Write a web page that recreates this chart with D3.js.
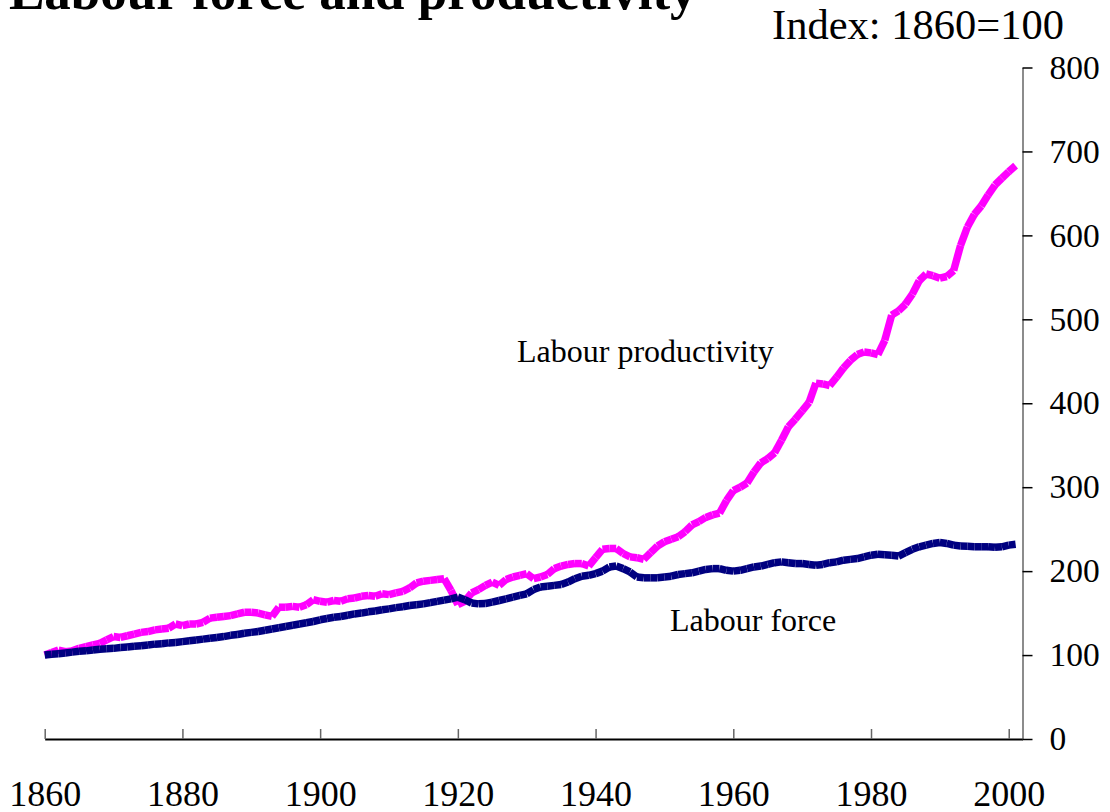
<!DOCTYPE html>
<meta charset="utf-8">
<style>
body { margin: 0; background: #fff; }
text { font-family: "Liberation Serif", "Times New Roman", serif; fill: #000; }
.title { font-weight: bold; font-size: 53px; }
.unit { font-size: 42.5px; }
.lbl { font-size: 32px; }
.axis text { font-family: "Liberation Serif", serif; }
.xaxis text { font-size: 36px; }
.yaxis text { font-size: 33.5px; }
</style>
<svg width="1110" height="812"></svg>
<script src="https://d3js.org/d3.v7.min.js"></script>
<script>
// years 1860..2001
var years = d3.range(1860, 2002);

// Labour force, index 1860=100
var labourForce = [
  100, 101, 101.5, 102.5, 103.5, 104.5, 105, 106, 107, 107.5,
  108, 109, 109.5, 110.5, 111, 112, 113, 113.5, 114.5, 115,
  116, 117, 118, 119, 120, 121, 122, 123.5, 124.5, 126,
  127, 128, 129.5, 131, 132.5, 134, 135.5, 137, 138.5, 140,
  142, 143.5, 145, 146, 147.5, 149, 150, 151.5, 152.5, 154,
  155, 156.5, 157.5, 159, 160, 161, 162.5, 164, 165.5, 167,
  169, 166, 162, 161, 161.5, 163, 165, 167, 169, 171,
  173, 178, 181, 182, 183, 184, 187, 191, 194, 195,
  197, 200, 205, 206, 203, 199, 193, 192, 192, 192,
  193, 194, 196, 197, 198, 200, 202, 203, 203, 201,
  200, 201, 203, 205, 206, 208, 210, 211, 210, 209,
  209, 208, 207, 208, 210, 211, 213, 214, 215, 217,
  219, 220, 219.5, 219, 218, 222, 226, 229, 231, 233,
  234, 233, 231, 230, 229.5, 229, 229, 229, 228.5, 229,
  231, 232
];

// Labour productivity, index 1860=100
var productivity = [
  100, 103, 106, 104, 105, 108, 110, 112, 114, 118,
  122, 121, 123, 125, 127, 128, 130, 131, 132, 137,
  135, 137, 137, 139, 144, 145, 146, 147, 149, 151,
  151, 150, 148, 146, 157, 157, 158, 157, 160, 166,
  164, 163, 165, 164, 167, 168, 170, 171, 170, 173,
  172, 174, 176, 180, 186, 188, 189, 190, 191, 177,
  160, 164, 174, 178, 183, 187, 183, 190, 193, 195,
  197, 191, 193, 196, 203, 206, 208, 209, 209, 206,
  216, 226, 227, 227, 221, 217, 216, 214, 222, 230,
  235, 238, 241, 247, 255, 259, 264, 267, 269, 284,
  296, 300, 305, 318, 329, 334, 341, 356, 372, 381,
  391, 401, 424, 423, 421, 431, 442, 451, 458, 461,
  460, 458, 475, 505, 510, 518, 530, 546, 554, 552,
  549, 551, 558, 588, 610, 625, 635, 648, 660, 668,
  676, 683
];

var xTicks = [1860, 1880, 1900, 1920, 1940, 1960, 1980, 2000];
var yTicks = [0, 100, 200, 300, 400, 500, 600, 700, 800];

var svg = d3.select("svg");

var x = d3.scaleLinear().domain([1860, 2002]).range([44.7, 1022.5]);
var y = d3.scaleLinear().domain([0, 800]).range([739, 67.5]);

// title, cut off at top like the source
svg.append("text").attr("class", "title")
    .attr("x", 9).attr("y", 9)
    .text("Labour force and productivity");

svg.append("text").attr("class", "unit")
    .attr("x", 1064).attr("y", 39)
    .attr("text-anchor", "end")
    .text("Index: 1860=100");

// x axis, ticks pointing up
var gx = svg.append("g").attr("class", "axis xaxis")
    .attr("transform", "translate(0," + y(0) + ")")
    .call(d3.axisBottom(x).tickValues(xTicks).tickFormat(d3.format("d"))
      .tickSize(-10).tickSizeOuter(0));
gx.attr("font-size", null);
gx.select(".domain").attr("stroke", "#000").attr("stroke-width", 2);
gx.selectAll(".tick line").attr("stroke", "#666").attr("stroke-width", 1.5);
gx.selectAll(".tick text").attr("y", 67).attr("dy", null).attr("fill", "#000");

// right value axis
var gy = svg.append("g").attr("class", "axis yaxis")
    .attr("transform", "translate(" + x.range()[1] + ",0)")
    .call(d3.axisRight(y).tickValues(yTicks).tickSize(10).tickSizeOuter(0).tickPadding(17));
gy.attr("font-size", null);
gy.select(".domain").attr("stroke", "#666").attr("stroke-width", 1.5);
gy.selectAll(".tick line").attr("stroke", "#000").attr("stroke-width", 1.5);
gy.selectAll(".tick text").attr("fill", "#000");

// each yearly step drawn as its own thick butt-capped segment
function drawSeries(values, color) {
  var pts = years.map(function(d, i) { return [x(d), y(values[i])]; });
  svg.append("g")
    .selectAll("line")
    .data(d3.pairs(pts))
    .enter().append("line")
      .attr("x1", function(d) { return d[0][0]; })
      .attr("y1", function(d) { return d[0][1]; })
      .attr("x2", function(d) { return d[1][0]; })
      .attr("y2", function(d) { return d[1][1]; })
      .attr("stroke", color)
      .attr("stroke-width", 7.5)
      .attr("stroke-linecap", "butt");
}

drawSeries(productivity, "#ff00ff");
drawSeries(labourForce, "#000080");

svg.append("text").attr("class", "lbl")
    .attr("x", 517).attr("y", 362)
    .text("Labour productivity");

svg.append("text").attr("class", "lbl")
    .attr("x", 670).attr("y", 631)
    .text("Labour force");
</script>
